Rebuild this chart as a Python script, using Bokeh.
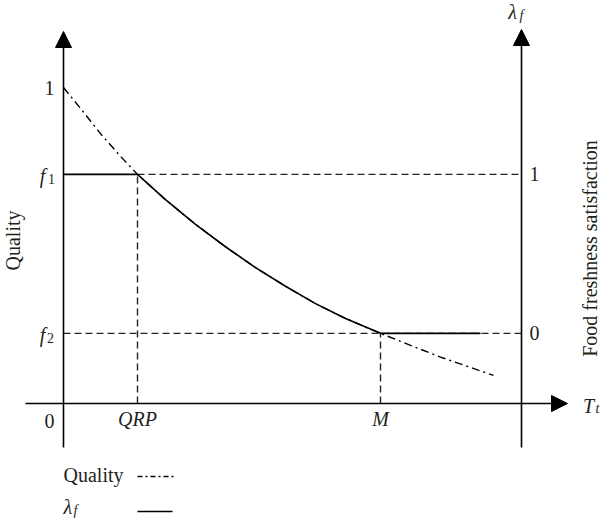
import numpy as np
from bokeh.plotting import figure
from bokeh.models import Range1d, Arrow, NormalHead
from bokeh.core.properties import value
from bokeh.embed import file_html
from bokeh.resources import INLINE

# ---------------- data (arbitrary time units) ----------------
t_quality = [0.00, 0.17, 0.37, 0.57, 0.74, 1.02, 1.32, 1.62, 1.92, 2.22,
             2.52, 2.82, 3.17, 3.47, 3.77, 4.07, 4.30]
quality = [1.000, 0.934, 0.854, 0.782, 0.725, 0.645, 0.567, 0.496, 0.430, 0.371,
           0.316, 0.269, 0.222, 0.184, 0.147, 0.114, 0.089]
QRP = 0.74          # time where lambda_f starts to fall
M = 3.17            # time where lambda_f reaches 0
f1 = 0.725          # quality giving lambda_f = 1
f2 = 0.222          # quality giving lambda_f = 0
lam_end = 4.17      # end of the lambda_f = 0 segment
t_right_axis = 4.58
x_tick_labels = ["0", "QRP", "M"]
lam_tick_labels = ["1", "0"]

# ---------------- layout helpers (page pixel -> data) ----------------
def tx(px):
    return (px - 63) / 100.0

def qy(py):
    return (403 - py) / 316.0

TY = -7   # text baseline correction (px)

def ty(py):
    return qy(py + TY)

FONT = value("Liberation Serif")
FS = "20px"
SUB = "14px"

p = figure(width=600, height=527, output_backend="svg", toolbar_location=None,
           x_range=Range1d(tx(0), tx(600)), y_range=Range1d(qy(527), qy(0)),
           x_axis_type=None, y_axis_type=None, min_border=0)
p.grid.visible = False
p.outline_line_color = None
p.background_fill_color = "white"
p.border_fill_color = "white"

# ---------------- axes with arrows ----------------
head = dict(size=16, fill_color="black", line_color="black", line_width=1)
p.add_layout(Arrow(end=NormalHead(**head), x_start=0, y_start=qy(447), x_end=0, y_end=qy(31),
                   line_width=1.6, line_color="black"))
p.add_layout(Arrow(end=NormalHead(**head), x_start=t_right_axis, y_start=qy(447),
                   x_end=t_right_axis, y_end=qy(29), line_width=1.6, line_color="black"))
p.add_layout(Arrow(end=NormalHead(**head), x_start=tx(25), y_start=0, x_end=tx(567), y_end=0,
                   line_width=1.6, line_color="black"))

# ---------------- dashed reference lines ----------------
dash = dict(line_color="#222222", line_width=1.4, line_dash="7 4")
p.segment(x0=[QRP, 0, QRP, M], y0=[f1, f2, 0, 0],
          x1=[t_right_axis, t_right_axis, QRP, M], y1=[f1, f2, f1, f2], **dash)

# ---------------- quality curve (dash-dot) ----------------
p.line(t_quality, quality, line_color="black", line_width=1.4, line_dash="8 4 2 4")

# ---------------- lambda_f (solid) ----------------
i0 = t_quality.index(QRP)
i1 = t_quality.index(M)
lam_t = [0.0] + t_quality[i0:i1 + 1] + [lam_end]
lam_q = [f1] + quality[i0:i1 + 1] + [f2]
p.line(lam_t, lam_q, line_color="black", line_width=1.6)

# ---------------- tick labels ----------------
def txt(x, y, s, size=FS, style="normal", align="center", baseline="alphabetic", angle=0):
    p.text(x=[x], y=[y], text=[s], text_font=FONT, text_font_size=size,
           text_font_style=style, text_align=align, text_baseline=baseline,
           text_color="#231f20", angle=angle)

# left axis
txt(tx(49), ty(94), "1")
txt(tx(42), ty(182), "f", style="italic")
txt(tx(51), ty(185), "1", size=SUB)
txt(tx(42), ty(341), "f", style="italic")
txt(tx(50), ty(344), "2", size=SUB)

# bottom axis
txt(tx(49), ty(427), x_tick_labels[0])
txt(QRP, ty(425), x_tick_labels[1], style="italic")
txt(M, ty(425), x_tick_labels[2], style="italic")
txt(tx(588), ty(412), "T", style="italic")
txt(tx(597), ty(415), "t", size=SUB, style="italic")

# right axis
txt(tx(534), ty(180), lam_tick_labels[0])
txt(tx(534), ty(339), lam_tick_labels[1])
txt(tx(512), ty(18), "λ", style="italic")
txt(tx(521), ty(22), "f", size=SUB, style="italic")

# axis titles
txt(tx(12), qy(240), "Quality", baseline="middle", angle=np.pi / 2)
txt(tx(589), qy(248), "Food freshness satisfaction", baseline="middle", angle=np.pi / 2)

# ---------------- legend ----------------
txt(tx(63), ty(481), "Quality", align="left")
p.line([tx(137), tx(173)], [qy(476), qy(476)], line_color="black", line_width=1.4,
       line_dash="5 3 2 3")
txt(tx(63), ty(513), "λ", style="italic", align="left")
txt(tx(73), ty(517), "f", size=SUB, style="italic", align="left")
p.line([tx(137), tx(172)], [qy(511), qy(511)], line_color="black", line_width=1.6)

open("out.html", "w").write(file_html(p, INLINE))
